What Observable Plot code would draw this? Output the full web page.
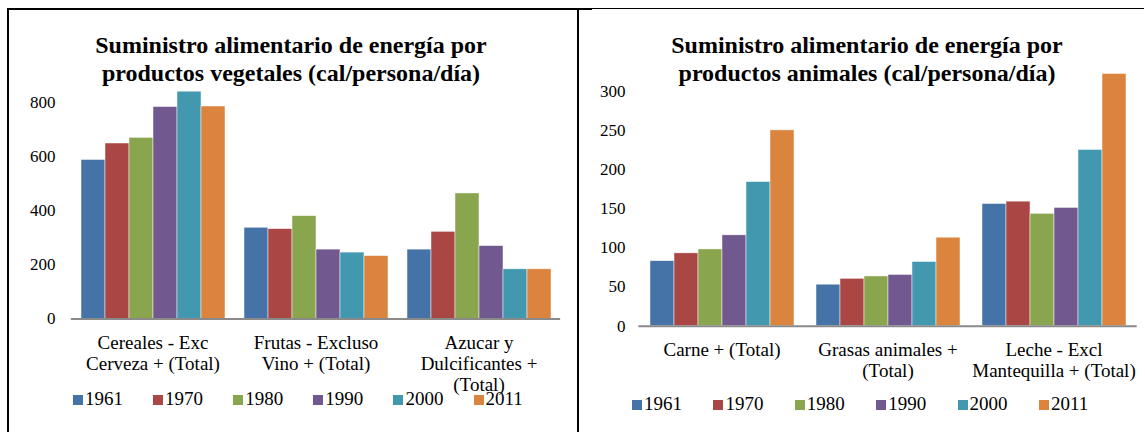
<!DOCTYPE html>
<html><head><meta charset="utf-8">
<script src="https://cdn.jsdelivr.net/npm/d3@7"></script>
<script src="https://cdn.jsdelivr.net/npm/@observablehq/plot@0.6"></script>
<style>
body{margin:0;background:#fff;}
#wrap{position:relative;width:1145px;height:432px;overflow:hidden;font-family:"Liberation Serif","Times New Roman",Times,"DejaVu Serif",serif;color:#000;}
.line{position:absolute;background:#000;}
.title{position:absolute;text-align:center;font-weight:bold;font-size:24px;line-height:28px;white-space:nowrap;}
.chart{position:absolute;top:0;}
.leg{position:absolute;font-size:19px;line-height:19px;white-space:nowrap;}
.leg i{display:inline-block;width:10px;height:10px;margin-right:2px;vertical-align:0px;}
</style></head>
<body><div id="wrap"></div>
<script>
const FONT = "'Liberation Serif','Times New Roman',Times,'DejaVu Serif',serif";
const years = ["1961","1970","1980","1990","2000","2011"];
const colors = ["#4572A7","#AA4643","#89A54E","#71588F","#4198AF","#DB843D"];

const vegTitle = ["Suministro alimentario de energía por", "productos vegetales (cal/persona/día)"];
const vegCategories = ["Cereales - Exc\nCerveza + (Total)", "Frutas - Excluso\nVino + (Total)", "Azucar y\nDulcificantes +\n(Total)"];
const vegCereales = [589, 650, 671, 785, 842, 787];
const vegFrutas = [338, 333, 381, 257, 246, 233];
const vegAzucar = [257, 323, 465, 270, 184, 184];
const vegTicks = [0, 200, 400, 600, 800];

const aniTitle = ["Suministro alimentario de energía por", "productos animales (cal/persona/día)"];
const aniCategories = ["Carne + (Total)", "Grasas animales +\n(Total)", "Leche - Excl\nMantequilla + (Total)"];
const aniCarne = [83, 93, 98, 116, 184, 250];
const aniGrasas = [53, 60.5, 63.5, 65.5, 82, 113];
const aniLeche = [156, 159, 143.5, 151, 225, 322];
const aniTicks = [0, 50, 100, 150, 200, 250, 300];

const wrap = document.getElementById("wrap");

function rowsOf(cats, series) {
  return cats.flatMap((c, i) => years.map((y, j) => ({cat: c, year: y, value: series[i][j]})));
}

function chart(o) {
  const plotW = o.width - o.marginLeft - o.marginRight;
  const step = plotW / o.cats.length;
  const gap = step * o.pad;
  return Plot.plot({
    width: o.width, height: o.height,
    marginLeft: o.marginLeft, marginRight: o.marginRight,
    marginTop: o.marginTop, marginBottom: o.marginBottom,
    style: {fontFamily: FONT, color: "#000", background: "transparent", overflow: "visible"},
    fx: {domain: o.cats, paddingInner: o.pad, paddingOuter: o.pad / 2, axis: null, label: null},
    x: {domain: years, padding: 0, axis: null},
    y: {domain: [0, o.yMax], axis: null},
    color: {domain: years, range: colors},
    marks: [
      Plot.barY(o.rows, {fx: "cat", x: "year", y: "value", fill: "year", stroke: "#ffffff", strokeWidth: 0.6, strokeOpacity: 0.8}),
      Plot.ruleY([0], {stroke: "#8a8a8a", strokeWidth: 2, insetLeft: -gap / 2, insetRight: -gap / 2}),
      Plot.axisY({ticks: o.ticks, tickSize: 0, tickPadding: o.tickPadY, label: null, fontSize: 17, fontFamily: FONT}),
      Plot.axisFx({anchor: "bottom", tickSize: 0, tickPadding: 15, label: null, fontSize: 19, lineHeight: 1.1, fontFamily: FONT})
    ]
  });
}

function place(el, left) {
  el.classList.add("chart");
  el.style.left = left + "px";
  wrap.appendChild(el);
}

place(chart({rows: rowsOf(vegCategories, [vegCereales, vegFrutas, vegAzucar]), cats: vegCategories, ticks: vegTicks,
  width: 578, height: 432, marginLeft: 70, marginRight: 18, marginTop: 102.5, marginBottom: 113.5,
  yMax: 800, pad: 0.112, tickPadY: 25}), 0);

place(chart({rows: rowsOf(aniCategories, [aniCarne, aniGrasas, aniLeche]), cats: aniCategories, ticks: aniTicks,
  width: 567, height: 432, marginLeft: 60, marginRight: 8, marginTop: 90.7, marginBottom: 106.3,
  yMax: 300, pad: 0.116, tickPadY: 23}), 578);

function title(lines, cx) {
  const d = document.createElement("div");
  d.className = "title";
  d.style.left = (cx - 250) + "px";
  d.style.width = "500px";
  d.style.top = "31px";
  d.innerHTML = lines.join("<br>");
  wrap.appendChild(d);
}
title(vegTitle, 291);
title(aniTitle, 867);

function legend(x0, dx, cy) {
  years.forEach((y, i) => {
    const d = document.createElement("div");
    d.className = "leg";
    d.style.left = (x0 + i * dx) + "px";
    d.style.top = (cy - 9.5) + "px";
    const sw = document.createElement("i");
    sw.style.background = colors[i];
    d.appendChild(sw);
    d.appendChild(document.createTextNode(y));
    wrap.appendChild(d);
  });
}
legend(73, 80.1, 398);
legend(632, 81.4, 403);

function line(l, t, w, h) {
  const d = document.createElement("div");
  d.className = "line";
  Object.assign(d.style, {left: l + "px", top: t + "px", width: w + "px", height: h + "px"});
  wrap.appendChild(d);
}
line(7, 8, 585, 2);
line(592, 8, 552, 1);
line(7, 8, 2, 424);
line(576.5, 8, 2.5, 424);
</script>
</body></html>
